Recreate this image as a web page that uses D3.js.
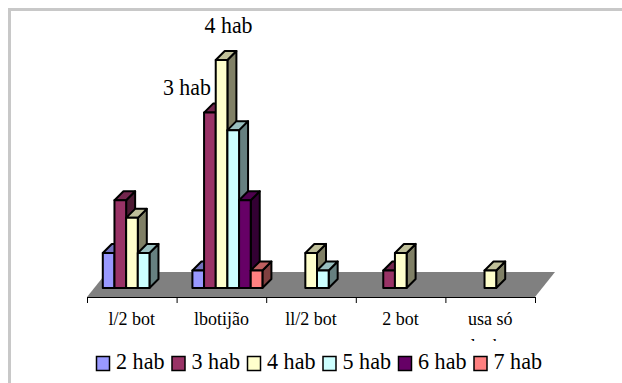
<!DOCTYPE html>
<html>
<head>
<meta charset="utf-8">
<script src="https://cdn.jsdelivr.net/npm/d3@7/dist/d3.min.js"></script>
<style>
html,body{margin:0;padding:0;background:#fff;overflow:hidden}
svg{display:block}
text{font-family:"Liberation Serif",serif;fill:#000}
</style>
</head>
<body>
<svg id="c" width="622" height="383"></svg>
<script>
const categories = ["l/2 bot", "lbotijão", "ll/2 bot", "2 bot", "usa só"];
const categorySecondLine = ["", "", "", "", "lenha"];
const seriesNames = ["2 hab", "3 hab", "4 hab", "5 hab", "6 hab", "7 hab"];
const seriesColors = ["#9999ff", "#993366", "#ffffcc", "#ccffff", "#660066", "#ff8080"];
const hab2 = [2, 1, 0, 0, 0];
const hab3 = [5, 10, 0, 1, 0];
const hab4 = [4, 13, 2, 2, 1];
const hab5 = [2, 9, 1, 0, 0];
const hab6 = [0, 5, 0, 0, 0];
const hab7 = [0, 1, 0, 0, 0];
const seriesValues = [hab2, hab3, hab4, hab5, hab6, hab7];
const pointLabels = [
  {series: "3 hab", category: "lbotijão"},
  {series: "4 hab", category: "lbotijão"}
];

const svg = d3.select("#c");
const W = 622, H = 383;

// frame
const frame = svg.append("g").attr("fill", "#c8c8c8");
frame.append("rect").attr("x", 8).attr("y", 8).attr("width", W - 8).attr("height", 3);
frame.append("rect").attr("x", 8).attr("y", 8).attr("width", 3).attr("height", H - 8);

const frontY = 297, baseY = 288, floorBackY = 272;
const x0 = 87, x1 = 535;
const floorDX = 20, baseDX = 6;
const depth = 9;

const xCat = d3.scaleBand().domain(categories).range([x0, x1]).paddingInner(0).paddingOuter(0);
const xSer = d3.scaleBand().domain(seriesNames).range([9.8, xCat.bandwidth() - 9.8]);
const y = d3.scaleLinear().domain([0, 13]).range([baseY, 60]);

// floor
svg.append("polygon")
  .attr("fill", "#808080")
  .attr("points", [[x0, frontY], [x1, frontY], [x1 + floorDX, floorBackY], [x0 + floorDX, floorBackY]].join(" "));

// axis
const axisScale = d3.scaleLinear().domain([0, categories.length]).range([x0, x1]);
const axis = d3.axisBottom(axisScale).ticks(categories.length).tickSize(6).tickSizeOuter(6).tickFormat("");
const axisG = svg.append("g").attr("transform", `translate(0,${frontY})`).call(axis);
axisG.selectAll("path,line").attr("stroke", "#000").attr("stroke-width", 1);

// bars
const bars = [];
categories.forEach((c, ci) => seriesNames.forEach((s, si) => {
  const v = seriesValues[si][ci];
  if (v > 0) bars.push({c, s, v, color: seriesColors[si]});
}));
const shade = (col, k) => { const c = d3.rgb(col); return d3.rgb(c.r * k, c.g * k, c.b * k).formatHex(); };

const g = svg.append("g").attr("stroke", "#000").attr("stroke-width", 2).attr("stroke-linejoin", "round");
bars.forEach(b => {
  const l = xCat(b.c) + xSer(b.s) + baseDX, r = l + xSer.bandwidth();
  const t = y(b.v), bt = y(0);
  g.append("polygon").attr("fill", shade(b.color, 0.5))
    .attr("points", [[r, t], [r + depth, t - depth], [r + depth, bt - depth], [r, bt]].join(" "));
  g.append("polygon").attr("fill", shade(b.color, 0.75))
    .attr("points", [[l, t], [l + depth, t - depth], [r + depth, t - depth], [r, t]].join(" "));
  g.append("rect").attr("fill", b.color).attr("x", l).attr("y", t).attr("width", r - l).attr("height", bt - t);
});

// category labels
svg.append("defs").append("clipPath").attr("id", "catClip")
  .append("rect").attr("x", 0).attr("y", 0).attr("width", W).attr("height", 341);
const catG = svg.append("g").attr("clip-path", "url(#catClip)")
  .attr("text-anchor", "middle").attr("font-size", 18);
categories.forEach((c, i) => {
  const cx = xCat(c) + xCat.bandwidth() / 2;
  catG.append("text").attr("x", cx).attr("y", 325).text(c);
  if (categorySecondLine[i]) catG.append("text").attr("x", cx).attr("y", 352).text(categorySecondLine[i]);
});

// point labels
const labelG = svg.append("g").attr("font-size", 24).attr("text-anchor", "middle");
pointLabels.forEach(p => {
  const si = seriesNames.indexOf(p.series), ci = categories.indexOf(p.category);
  const cx = xCat(p.category) + xSer(p.series) + baseDX + xSer.bandwidth() / 2;
  const top = y(seriesValues[si][ci]);
  const isTallest = seriesValues[si][ci] === d3.max(seriesValues.flat());
  labelG.append("text")
    .attr("x", isTallest ? cx + 7 : cx - 23)
    .attr("y", top - (isTallest ? 27 : 18))
    .attr("textLength", 48).attr("lengthAdjust", "spacingAndGlyphs")
    .text(p.series);
});

// legend
const legendX = d3.scalePoint().domain(seriesNames).range([96, 473.5]);
const leg = svg.append("g");
seriesNames.forEach((s, i) => {
  const lx = legendX(s);
  leg.append("rect").attr("x", lx + 0.5).attr("y", 356.5).attr("width", 13).attr("height", 14)
    .attr("fill", seriesColors[i]).attr("stroke", "#000").attr("stroke-width", 1.5);
  leg.append("text").attr("x", lx + 20).attr("y", 369).attr("font-size", 24)
    .attr("textLength", 48.5).attr("lengthAdjust", "spacingAndGlyphs").text(s);
});
</script>
</body>
</html>
